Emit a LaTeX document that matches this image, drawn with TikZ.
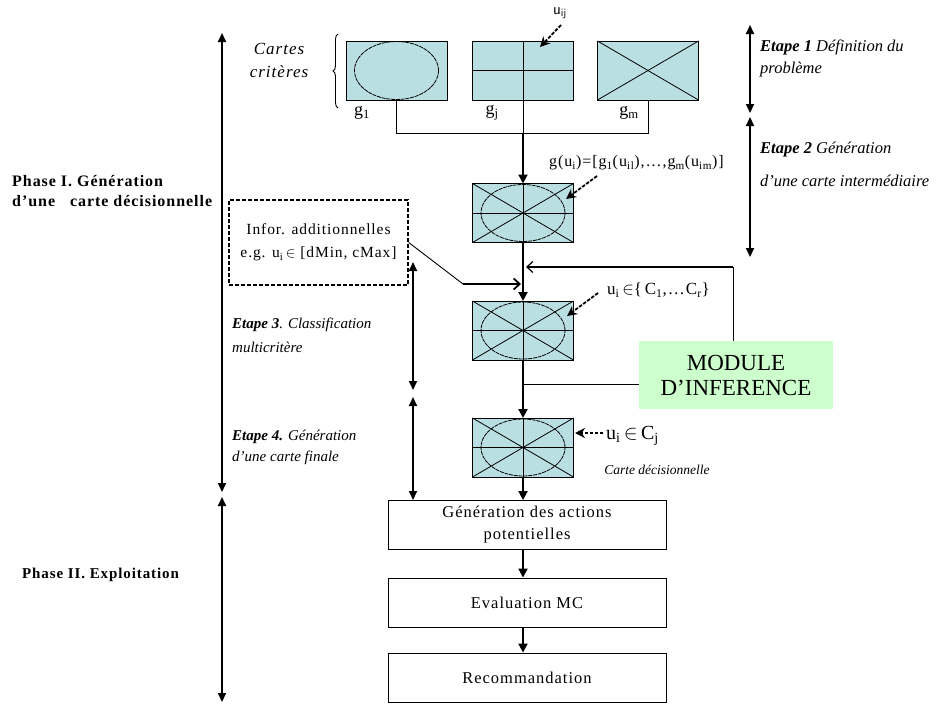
\documentclass[tikz,border=0pt]{standalone}
\usepackage{fontspec}
\setmainfont{Liberation Serif}
\newfontfamily\widefont{Liberation Serif}[LetterSpace=6]
\usetikzlibrary{arrows.meta,decorations.pathreplacing}
\definecolor{mapfill}{HTML}{BADFE3}
\definecolor{modfill}{HTML}{CCFFCC}
\begin{document}
\begin{tikzpicture}[x=1pt,y=-1pt,
  card/.style={draw,line width=0.9pt,fill=mapfill,minimum width=101pt,minimum height=59pt,inner sep=0pt,outer sep=0pt},
  ell/.style={dash pattern=on 4pt off 0.8pt,line width=0.8pt},
  grid line/.style={line width=0.8pt},
  flow/.style={line width=2pt,-{Triangle[length=9pt,width=9pt]}},
  barb/.style={line width=1.8pt,-{Straight Barb[length=6pt,width=11pt]}},
  dbl/.style={line width=2pt,{Triangle[length=9pt,width=8pt]}-{Triangle[length=9pt,width=8pt]}},
  ptr/.style={line width=1.8pt,dash pattern=on 3.5pt off 1.5pt,-{Stealth[length=10pt,width=10pt]}},
  wire/.style={line width=0.9pt},
  stepbox/.style={draw,line width=0.9pt,minimum width=278pt,minimum height=49pt,inner sep=0pt,align=center,font=\widefont\fontsize{16.5}{22}\selectfont},
  lbl/.style={inner sep=0pt,anchor=west,font=\widefont\fontsize{16}{18}\selectfont},
  ilbl/.style={inner sep=0pt,anchor=west,font=\fontsize{16.5}{18}\selectfont\itshape},
  mlbl/.style={inner sep=0pt,anchor=west,font=\fontsize{15}{18}\selectfont\itshape},
  plbl/.style={inner sep=0pt,anchor=west,font=\widefont\fontsize{16}{18}\selectfont\bfseries},
  glbl/.style={inner sep=0pt,font=\fontsize{18}{20}\selectfont}
]
\useasboundingbox (0,0) rectangle (942,704);

% criteria maps
\node[card] (g1) at (396.5,70.5) {};
\node[card] (gj) at (523,70.5) {};
\node[card] (gm) at (648,70.5) {};
\draw[ell] (g1.center) ellipse [x radius=42pt, y radius=29pt];
\draw[grid line] (gj.north) -- (gj.south);
\draw[grid line] (gj.west) -- (gj.east);
\draw[grid line] (gm.north west) -- (gm.south east);
\draw[grid line] (gm.south west) -- (gm.north east);

% combined maps
\foreach \n/\y in {gi/213, gc/330.5, gf/447.5}{
  \node[card] (\n) at (523,\y) {};
  \draw[ell] (\n.center) ellipse [x radius=42pt, y radius=28.5pt];
  \draw[grid line] (\n.north) -- (\n.south);
  \draw[grid line] (\n.west) -- (\n.east);
  \draw[grid line] (\n.north west) -- (\n.south east);
  \draw[grid line] (\n.south west) -- (\n.north east);
}

% labels of maps
\node[glbl] (lg1) at (362,113) {g\textsubscript{1}};
\node[glbl] (lgj) at (492,113) {g\textsubscript{j}};
\node[glbl] (lgm) at (629,113) {g\textsubscript{m}};
\node[inner sep=0pt,align=center,font=\widefont\fontsize{17}{23}\selectfont\itshape] (cartes) at (279,60) {Cartes\\critères};
\draw[wire,decorate,decoration={brace,amplitude=5pt}] (338,108) -- (338,34);

% collecting connector
\coordinate (jn) at (523,133);
\draw[wire] (g1.south) |- (jn);
\draw[wire] (gm.south) |- (jn);
\draw[wire] (gj.south) -- (jn);
\draw[flow] (jn) -- (gi.north);

% u_ij pointer
\node[inner sep=0pt,font=\fontsize{16}{18}\selectfont\sffamily] (uij) at (560,13) {u\textsubscript{ij}};
\draw[ptr] (561,25) -- (540,47);

% g(u_i) label
\node[lbl] (gu) at (549,163) {g(u\textsubscript{i})=[g\textsubscript{1}(u\textsubscript{il}),…,g\textsubscript{m}(u\textsubscript{im})]};
\draw[ptr] (597,176) -- (566,199);

% info box
\node[draw,line width=1.4pt,dash pattern=on 4pt off 2pt,minimum width=179pt,minimum height=85pt,inner sep=0pt,align=center,font=\widefont\fontsize{15.5}{23}\selectfont] (info) at (318.5,242.5) {Infor. additionnelles\\e.g. u\textsubscript{i}\,$\in$ [dMin, cMax]};
\coordinate (ib) at (463,284);
\draw[wire] (info.east) -- (ib);
\draw[barb] (ib) -- (521,284);

% flow between combined maps
\draw[flow] (gi.south) -- (gc.north);
\draw[flow] (gc.south) -- (gf.north);

% classification label
\node[lbl,font=\widefont\fontsize{17}{18}\selectfont] (uc) at (607,290) {u\textsubscript{i}\,$\in${\{}\,C\textsubscript{1},…C\textsubscript{r}\}};
\draw[ptr] (598,293) -- (567,316);

% module
\node[fill=modfill,minimum width=194pt,minimum height=68pt,inner sep=0pt,align=center,font=\fontsize{23}{25}\selectfont] (mod) at (736,375) {MODULE\\D’INFERENCE};
\coordinate (fb) at (733,267);
\draw[wire] (mod.north -| fb) -- (fb);
\draw[line width=1.2pt,-{Straight Barb[length=6pt,width=11pt]}] (fb) -- (526,267);
\coordinate (mj) at (523,384);
\draw[wire] (mj) -- (mod.west |- mj);

% final map label
\node[lbl,font=\widefont\fontsize{20}{22}\selectfont] (uf) at (606,436) {u\textsubscript{i}\,$\in$\,C\textsubscript{j}};
\draw[ptr] (603,433) -- (575,433);
\node[inner sep=0pt,font=\fontsize{13.5}{15}\selectfont\itshape] (cd) at (657,470) {Carte décisionnelle};

% bottom boxes
\node[stepbox] (act) at (527,525) {Génération des actions\\potentielles};
\node[stepbox] (eval) at (527,602.5) {Evaluation MC};
\node[stepbox] (rec) at (527,677.5) {Recommandation};
\draw[flow] (gf.south) -- (gf.south |- act.north);
\draw[flow] (act.south -| gf.south) -- (gf.south |- eval.north);
\draw[flow] (eval.south -| gf.south) -- (gf.south |- rec.north);

% phase arrows
\coordinate (p1t) at (222,33);
\coordinate (p1b) at (222,492);
\coordinate (p2t) at (222,497);
\coordinate (p2b) at (222,702);
\draw[dbl] (p1t) -- (p1b);
\draw[dbl] (p2t) -- (p2b);
\node[plbl] (ph1a) at (12,181) {Phase I. Génération};
\node[plbl] (ph1b) at (12,201) {d’une \ \ carte décisionnelle};
\node[plbl,font=\widefont\fontsize{15}{18}\selectfont\bfseries] (ph2) at (22,575) {Phase II. Exploitation};

% step arrows right
\coordinate (e1t) at (750,25);
\coordinate (e1b) at (750,113);
\coordinate (e2t) at (750,117);
\coordinate (e2b) at (750,257);
\draw[dbl] (e1t) -- (e1b);
\draw[dbl] (e2t) -- (e2b);
\node[ilbl] (e1a) at (760,47) {\textbf{Etape 1} Définition du};
\node[ilbl] (e1b2) at (760,70) {problème};
\node[ilbl] (e2a) at (760,150) {\textbf{Etape 2} Génération};
\node[ilbl] (e2b2) at (760,181) {d’une carte intermédiaire};

% step arrows middle
\coordinate (e3t) at (413,262);
\coordinate (e3b) at (413,390);
\coordinate (e4t) at (413,397);
\coordinate (e4b) at (413,500);
\draw[dbl] (e3t) -- (e3b);
\draw[dbl] (e4t) -- (e4b);
\node[mlbl] (e3a) at (232,325) {\textbf{Etape 3}. Classification};
\node[mlbl] (e3b2) at (232,347) {multicritère};
\node[mlbl] (e4a) at (232,437) {\textbf{Etape 4.} Génération};
\node[mlbl] (e4b2) at (232,458) {d’une carte finale};
\end{tikzpicture}
\end{document}
